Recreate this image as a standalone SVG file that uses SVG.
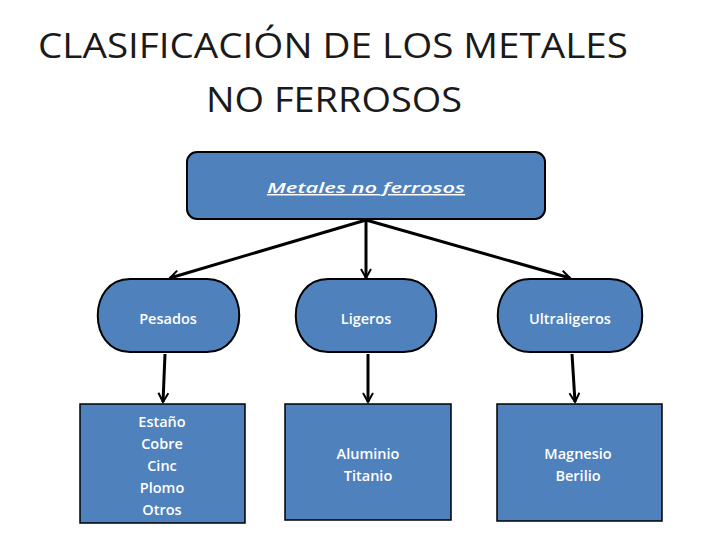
<svg xmlns="http://www.w3.org/2000/svg" width="728" height="546" viewBox="0 0 728 546">
<style>
.n{fill:#4f81bd;stroke:#000;stroke-width:2}
.b{fill:#4f81bd;stroke:#000;stroke-width:1.5}
.t{font-family:"Open Sans","Liberation Sans",sans-serif;font-size:14.5px;font-weight:600;fill:#fff;text-anchor:middle}
.c{stroke:#000;stroke-width:3;fill:none;marker-end:url(#a)}
</style>
<defs><marker id="a" markerWidth="12" markerHeight="12" refX="10" refY="6" orient="auto" markerUnits="userSpaceOnUse"><path d="M1,1 L10,6 L1,11" fill="none" stroke="#000" stroke-width="2"/></marker></defs>
<rect width="728" height="546" fill="#fff"/>
<g id="title" font-family="'Open Sans','Liberation Sans',sans-serif" font-size="35" fill="#1a1a1a"><text x="38" y="58" textLength="590" lengthAdjust="spacingAndGlyphs">CLASIFICACIÓN DE LOS METALES</text><text x="206" y="112" textLength="256" lengthAdjust="spacingAndGlyphs">NO FERROSOS</text></g>
<g id="connectors">
<line class="c" x1="366" y1="220" x2="170" y2="278"/>
<line class="c" x1="366" y1="220" x2="366" y2="278"/>
<line class="c" x1="366" y1="220" x2="570" y2="278"/>
<line class="c" x1="165" y1="354" x2="163" y2="402"/>
<line class="c" x1="368" y1="354" x2="368" y2="402"/>
<line class="c" x1="572" y1="354" x2="575" y2="402"/>
</g>
<g id="root"><rect class="n" x="187" y="152" width="358" height="67" rx="10"/><text class="t" x="366" y="193" font-style="italic" text-decoration="underline" font-size="18" textLength="198" lengthAdjust="spacingAndGlyphs">Metales no ferrosos</text></g>
<g id="pesados"><path class="n" d="M130,279 H207 C250,279 250,352 207,352 H130 C87,352 87,279 130,279 Z"/><text class="t" x="168" y="324">Pesados</text></g>
<g id="ligeros"><path class="n" d="M328,279 H404 C447,279 447,352 404,352 H328 C285,352 285,279 328,279 Z"/><text class="t" x="366" y="324">Ligeros</text></g>
<g id="ultraligeros"><path class="n" d="M530,279 H610 C653,279 653,352 610,352 H530 C487,352 487,279 530,279 Z"/><text class="t" x="570" y="324">Ultraligeros</text></g>
<g id="b1"><rect class="b" x="80" y="404" width="165" height="119"/><text class="t" x="162" y="427">Estaño</text><text class="t" x="162" y="449">Cobre</text><text class="t" x="162" y="471">Cinc</text><text class="t" x="162" y="493">Plomo</text><text class="t" x="162" y="515">Otros</text></g>
<g id="b2"><rect class="b" x="285" y="404" width="166" height="116"/><text class="t" x="368" y="459">Aluminio</text><text class="t" x="368" y="481">Titanio</text></g>
<g id="b3"><rect class="b" x="497" y="404" width="165" height="117"/><text class="t" x="578" y="459">Magnesio</text><text class="t" x="578" y="481">Berilio</text></g>
</svg>
